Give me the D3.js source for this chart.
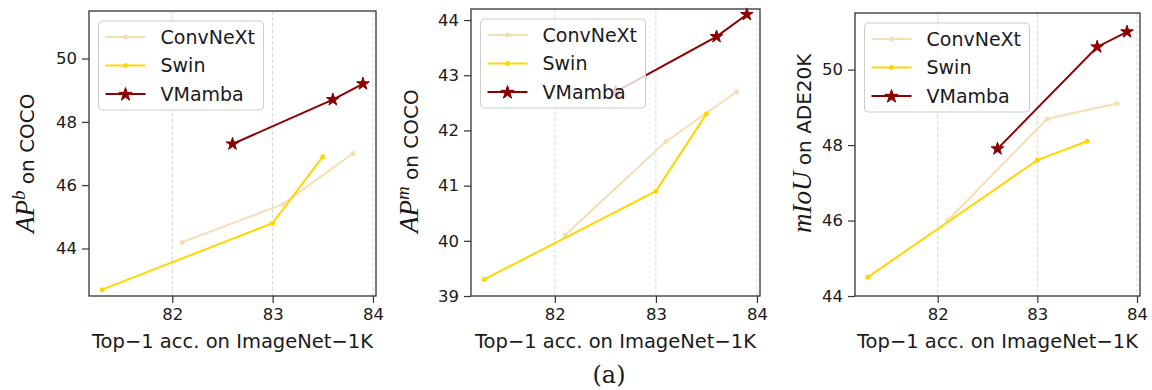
<!DOCTYPE html>
<html>
<head>
<meta charset="utf-8">
<script src="https://cdn.jsdelivr.net/npm/d3@7"></script>
<style>
  body { margin: 0; background: #fff; }
  text { font-family: "DejaVu Sans", sans-serif; fill: #1a1a1a; }
</style>
</head>
<body>
<div id="chart"></div>
<script>
// Data
var convnextAcc = [82.1, 83.1, 83.8];
var swinAcc = [81.3, 83.0, 83.5];
var vmambaAcc = [82.6, 83.6, 83.9];

var convnextBox = [44.2, 45.4, 47.0];
var swinBox = [42.7, 44.8, 46.9];
var vmambaBox = [47.3, 48.7, 49.2];

var convnextMask = [40.1, 41.8, 42.7];
var swinMask = [39.3, 40.9, 42.3];
var vmambaMask = [42.7, 43.7, 44.1];

var convnextSeg = [46.0, 48.7, 49.1];
var swinSeg = [44.5, 47.6, 48.1];
var vmambaSeg = [47.9, 50.6, 51.0];

var xTicks = [82, 83, 84];
var boxTicks = [44, 46, 48, 50];
var maskTicks = [39, 40, 41, 42, 43, 44];
var segTicks = [44, 46, 48, 50];

var seriesNames = ["ConvNeXt", "Swin", "VMamba"];
var seriesColors = ["#f5deb3", "#ffd700", "#8b0000"];

var svgWidth = 1152;
var svgHeight = 390;

var svg = d3.select("#chart")
  .append("svg")
  .attr("width", svgWidth)
  .attr("height", svgHeight);

// panel layout (frame box in pixels)
var panels = [
  { left: 89, right: 376, top: 11, bottom: 296, yDomain: [42.5, 51.5], ticks: boxTicks,
    ys: [convnextBox, swinBox, vmambaBox], math: "AP", sup: "b", rest: " on COCO", labelX: 27 },
  { left: 471, right: 760, top: 9, bottom: 296, yDomain: [39, 44.2], ticks: maskTicks,
    ys: [convnextMask, swinMask, vmambaMask], math: "AP", sup: "m", rest: " on COCO", labelX: 411 },
  { left: 855, right: 1140, top: 13, bottom: 296, yDomain: [44, 51.5], ticks: segTicks,
    ys: [convnextSeg, swinSeg, vmambaSeg], math: "mIoU", sup: null, rest: " on ADE20K", labelX: 804 }
];

var xs = [convnextAcc, swinAcc, vmambaAcc];

panels.forEach(function(p) {
  var g = svg.append("g");

  var xScale = d3.scaleLinear()
    .domain([81.17, 84.03])
    .range([p.left, p.right]);

  var yScale = d3.scaleLinear()
    .domain(p.yDomain)
    .range([p.bottom, p.top]);

  // vertical dashed grid
  g.selectAll(".grid")
    .data(xTicks)
    .enter()
    .append("line")
    .attr("x1", d => xScale(d))
    .attr("x2", d => xScale(d))
    .attr("y1", p.top)
    .attr("y2", p.bottom)
    .attr("stroke", "#d9d9d9")
    .attr("stroke-width", 1)
    .attr("stroke-dasharray", "4,2");

  // axes
  var bottomAxis = d3.axisBottom(xScale).tickValues(xTicks).tickSize(7).tickPadding(5).tickFormat(d3.format("d"));
  var leftAxis = d3.axisLeft(yScale).tickValues(p.ticks).tickSize(7).tickPadding(5).tickFormat(d3.format("d"));

  var xg = g.append("g")
    .attr("transform", `translate(0, ${p.bottom})`)
    .call(bottomAxis);
  var yg = g.append("g")
    .attr("transform", `translate(${p.left}, 0)`)
    .call(leftAxis);

  [xg, yg].forEach(function(a) {
    a.select(".domain").remove();
    a.selectAll("line").attr("stroke", "#333").attr("stroke-width", 1.2);
    a.selectAll("text").style("font-size", "16.5px").attr("fill", "#1a1a1a");
  });

  // series lines and markers
  p.ys.forEach(function(yv, i) {
    var pts = xs[i].map((x, j) => [x, yv[j]]);
    var line = d3.line()
      .x(d => xScale(d[0]))
      .y(d => yScale(d[1]));

    g.append("path")
      .datum(pts)
      .attr("d", line)
      .attr("fill", "none")
      .attr("stroke", seriesColors[i])
      .attr("stroke-width", 2);

    if (i < 2) {
      g.selectAll(".dot" + i)
        .data(pts)
        .enter()
        .append("circle")
        .attr("cx", d => xScale(d[0]))
        .attr("cy", d => yScale(d[1]))
        .attr("r", 2.5)
        .attr("fill", seriesColors[i]);
    } else {
      g.selectAll(".star")
        .data(pts)
        .enter()
        .append("path")
        .attr("d", d3.symbol().type(d3.symbolStar).size(50))
        .attr("transform", d => `translate(${xScale(d[0])}, ${yScale(d[1])})`)
        .attr("fill", seriesColors[i])
        .attr("stroke", seriesColors[i])
        .attr("stroke-width", 1);
    }
  });

  // frame
  g.append("rect")
    .attr("x", p.left)
    .attr("y", p.top)
    .attr("width", p.right - p.left)
    .attr("height", p.bottom - p.top)
    .attr("fill", "none")
    .attr("stroke", "#333")
    .attr("stroke-width", 1.3);

  // legend
  var lx = p.left + 9.5, ly = p.top + 10;
  var lg = g.append("g").attr("transform", `translate(${lx}, ${ly})`);
  lg.append("rect")
    .attr("width", 165)
    .attr("height", 89)
    .attr("rx", 4)
    .attr("fill", "#fff")
    .attr("fill-opacity", 0.8)
    .attr("stroke", "#cccccc")
    .attr("stroke-width", 1);

  seriesNames.forEach(function(name, i) {
    var ry = 16 + i * 28.5;
    lg.append("line")
      .attr("x1", 7).attr("x2", 47)
      .attr("y1", ry).attr("y2", ry)
      .attr("stroke", seriesColors[i])
      .attr("stroke-width", 2);
    if (i < 2) {
      lg.append("circle").attr("cx", 27).attr("cy", ry).attr("r", 2.5).attr("fill", seriesColors[i]);
    } else {
      lg.append("path")
        .attr("d", d3.symbol().type(d3.symbolStar).size(55))
        .attr("transform", `translate(27, ${ry + 0.5})`)
        .attr("fill", seriesColors[i])
        .attr("stroke", seriesColors[i]);
    }
    lg.append("text")
      .attr("x", 62)
      .attr("y", ry)
      .attr("dy", "0.35em")
      .style("font-size", "19px")
      .text(name);
  });

  // axis labels
  g.append("text")
    .attr("x", (p.left + p.right) / 2)
    .attr("y", 348)
    .attr("text-anchor", "middle")
    .style("font-size", "19.5px")
    .text("Top\u22121 acc. on ImageNet\u22121K");

  var yl = g.append("text")
    .attr("transform", `translate(${p.labelX}, 233) rotate(-90)`)
    .attr("text-anchor", "start")
    .attr("dy", "0.35em")
    .style("font-size", "20px");
  yl.append("tspan")
    .style("font-family", "'Liberation Serif', serif")
    .style("font-style", "italic")
    .style("font-size", "27px")
    .text(p.math);
  if (p.sup) {
    yl.append("tspan")
      .attr("dy", "-0.45em")
      .style("font-family", "'Liberation Serif', serif")
      .style("font-style", "italic")
      .style("font-size", "19px")
      .text(p.sup);
    yl.append("tspan")
      .attr("dy", "0.45em")
      .text(p.rest);
  } else {
    yl.append("tspan").text(p.rest);
  }
});

// caption
svg.append("text")
  .attr("x", 609)
  .attr("y", 383)
  .attr("text-anchor", "middle")
  .style("font-family", "'DejaVu Serif', serif")
  .style("font-size", "24px")
  .text("(a)");
</script>
</body>
</html>
